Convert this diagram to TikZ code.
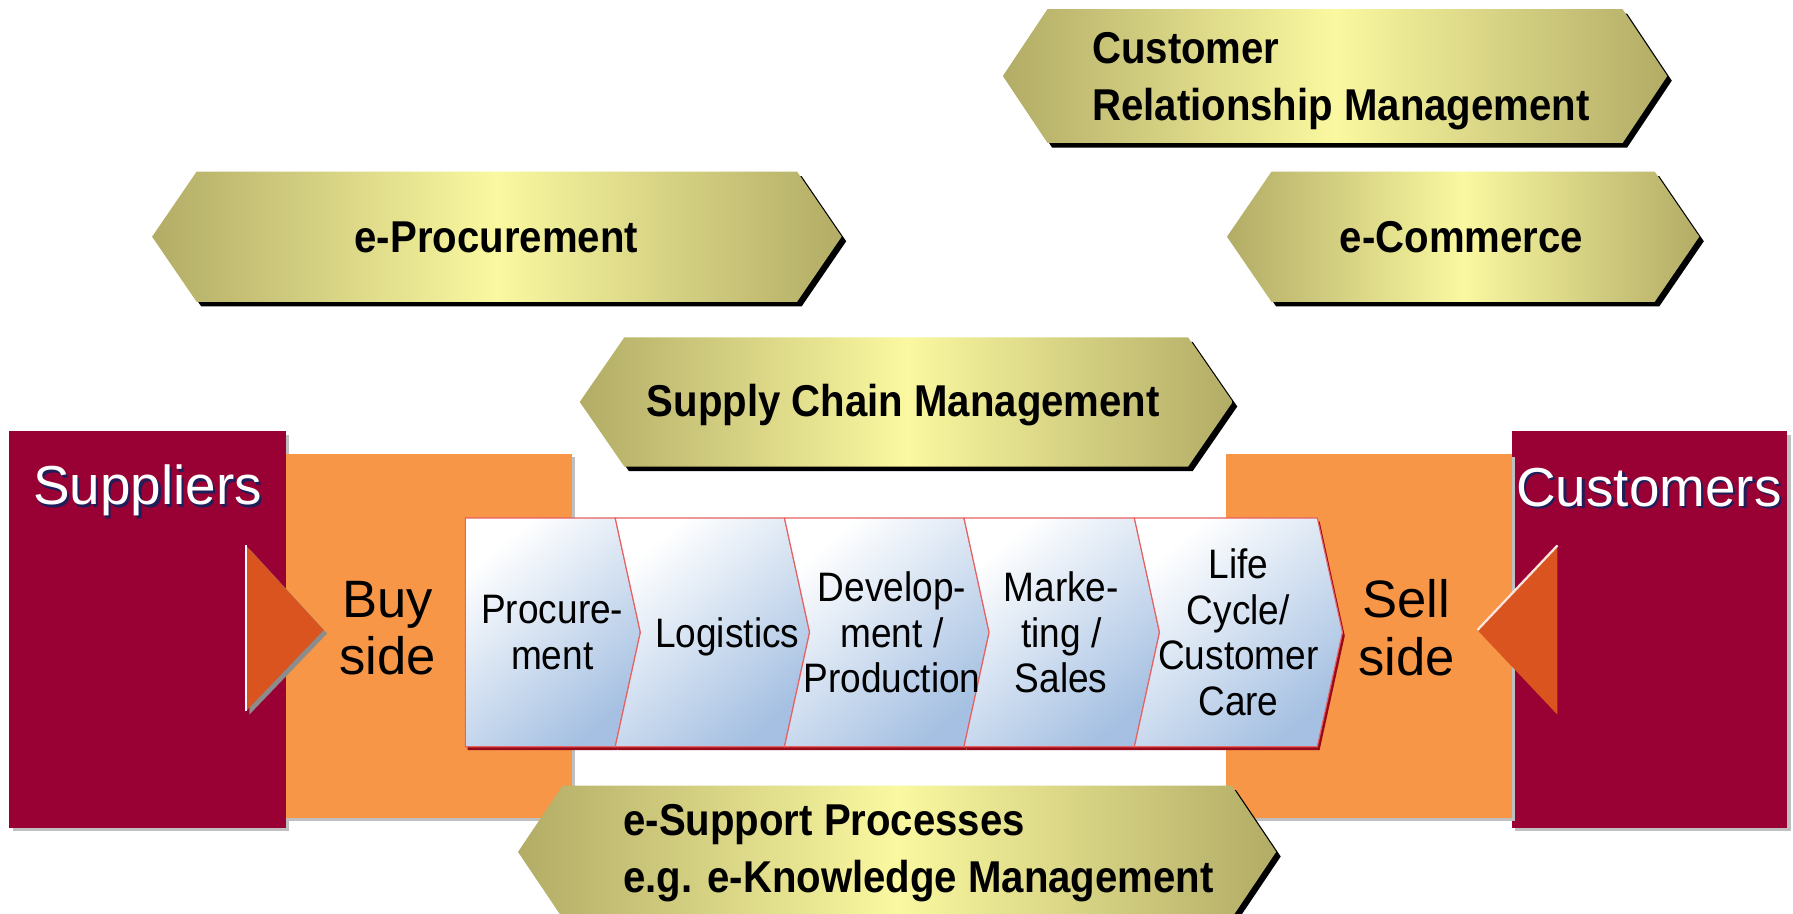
\documentclass[tikz,border=0pt]{standalone}
\usepackage{fontspec}
\setmainfont{Liberation Sans}
\newfontfamily\narrowfont{Liberation Sans}[FakeStretch=0.9]
\usepackage{xcolor}
\usepackage{tikz}
\usetikzlibrary{
    positioning,
    calc
}
\definecolor{partnerred}{RGB}{153,0,51}
\definecolor{sideorange}{RGB}{247,150,70}
\definecolor{pointerorange}{RGB}{217,84,30}
\definecolor{hexolive}{RGB}{178,172,102}
\definecolor{hexlight}{RGB}{250,248,160}
\definecolor{chainblue}{RGB}{165,192,226}
\definecolor{chainred}{RGB}{232,96,96}
\definecolor{chainshadow}{RGB}{150,10,25}
\definecolor{textshadow}{RGB}{30,30,90}
\tikzset{
    hexa/.style={
        left color=hexolive, right color=hexolive, middle color=hexlight
    },
    hexashadow/.style={
        fill=black
    },
    hexatext/.style={
        font=\narrowfont\bfseries\fontsize{39}{50}\selectfont,
        align=left, inner sep=0pt
    },
    partner/.style={
        fill=partnerred
    },
    side/.style={
        fill=sideorange
    },
    boxshadow/.style={
        fill=black!25
    },
    pointer/.style={
        fill=pointerorange
    },
    chevron/.style={
        top color=white, bottom color=chainblue, shading angle=40,
        draw=chainred, line width=1pt
    },
    chevronshadow/.style={
        fill=chainshadow
    }
}

\begin{document}
\begin{tikzpicture}[
    x=1pt, y=-1pt,
    steptext/.style={font=\narrowfont\fontsize{36}{40}\selectfont, align=center, inner sep=0pt},
    sidetext/.style={font=\fontsize{46}{50}\selectfont, align=center, inner sep=0pt},
    partnertext/.style={font=\fontsize{48}{50}\selectfont, text=white, inner sep=0pt},
    partnershadow/.style={partnertext, text=textshadow}
  ]

    \useasboundingbox (0,0) rectangle (1568,799);
    \fill[white] (0,0) rectangle (1568,799);

    % partners and sides
    \fill[boxshadow] (11,380) rectangle (253,727);
    \fill[partner] (8,377) rectangle (250,724);
    \fill[boxshadow] (1325,380) rectangle (1566,727);
    \fill[partner] (1322,377) rectangle (1563,724);
    \fill[boxshadow] (253,400) rectangle (503,718);
    \fill[side] (250,397) rectangle (500,715);
    \fill[boxshadow] (1075,400) rectangle (1325,718);
    \fill[side] (1072,397) rectangle (1322,715);

    \fill[black!45, shift={(3,3)}] (215,477) -- (283,551) -- (215,622) -- cycle;
    \fill[pointer] (215,477) -- (283,551) -- (215,622) -- cycle;
    \draw[white, line width=2pt] (215,477) -- (215,622);
    \fill[pointer] (1362,477) -- (1292,551) -- (1362,625) -- cycle;
    \draw[white!85!pointerorange, line width=2pt] (1362,477) -- (1292,551);

    % value chain
    \foreach \a/\b [count=\i] in {407/538, 538/686, 686/843, 843/992, 992/1152}{
        \pgfmathsetmacro\notch{\i==1 ? 0 : 22}
        \fill[chevronshadow, shift={(2,3)}] (\a,453) -- (\b,453) -- (\b+22,553) -- (\b,653) -- (\a,653) -- (\a+\notch,553) -- cycle;
        \path[chevron] (\a,453) -- (\b,453) -- (\b+22,553) -- (\b,653) -- (\a,653) -- (\a+\notch,553) -- cycle;
    }

    % hexagons
    \foreach \xl/\xr/\yt/\yb in {877/1458/8/125, 133/736/150/264, 1073/1486/150/264, 507/1078/295/408, 453/1116/687/803}{
        \pgfmathsetmacro\ym{(\yt+\yb)/2}
        \fill[hexashadow, shift={(4,4)}] (\xl,\ym) -- (\xl+39,\yt) -- (\xr-39,\yt) -- (\xr,\ym) -- (\xr-39,\yb) -- (\xl+39,\yb) -- cycle;
        \path[hexa] (\xl,\ym) -- (\xl+39,\yt) -- (\xr-39,\yt) -- (\xr,\ym) -- (\xr-39,\yb) -- (\xl+39,\yb) -- cycle;
    }

    \node[hexatext, anchor=west] (crm_label) at (955,71) {Customer\\Relationship Management};
    \node[hexatext, anchor=base] (eproc_label) at (434,221) {e-Procurement};
    \node[hexatext, anchor=base] (ecom_label) at (1278,221) {e-Commerce};
    \node[hexatext, anchor=base] (scm_label) at (790,364) {Supply Chain Management};
    \node[hexatext, anchor=west] (esupport_label) at (545,746) {e-Support Processes\\e.g. e-Knowledge Management};

    \node[partnershadow] (suppliers_shadow) at (131,431) {Suppliers};
    \node[partnertext] (suppliers) at (129,429) {Suppliers};
    \node[partnershadow] (customers_shadow) at (1444,428) {Customers};
    \node[partnertext] (customers) at (1442,426) {Customers};

    \node[sidetext] (buy_side) at (339,549) {Buy\\side};
    \node[sidetext] (sell_side) at (1230,549) {Sell\\side};

    \node[steptext] (step_procurement) at (483,553) {Procure-\\ment};
    \node[steptext] (step_logistics) at (636,557) {Logistics};
    \node[steptext] (step_development) at (780,553) {Develop-\\ment /\\Production};
    \node[steptext] (step_marketing) at (928,553) {Marke-\\ting /\\Sales};
    \node[steptext] (step_lifecycle) at (1083,553) {Life\\Cycle/\\Customer\\Care};

\end{tikzpicture}
\end{document}
